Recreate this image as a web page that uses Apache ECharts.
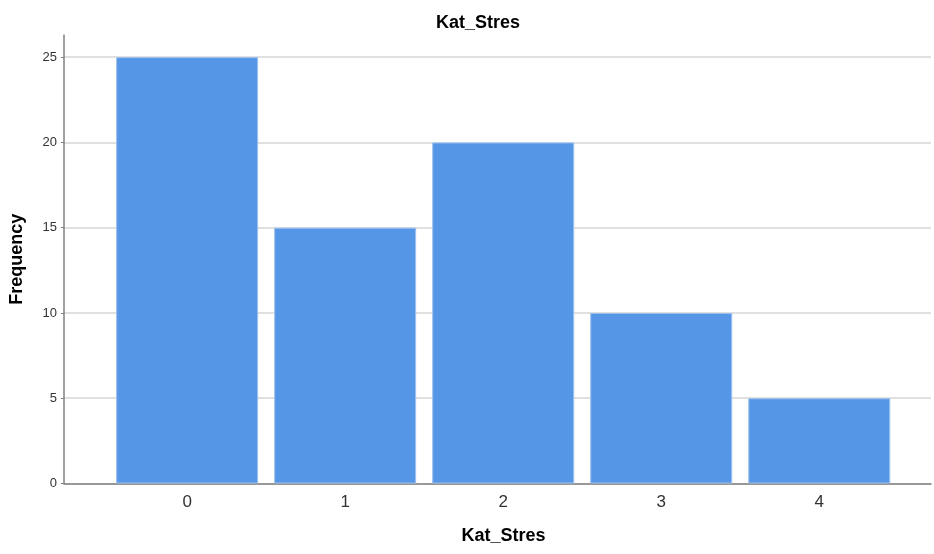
<!DOCTYPE html>
<html>
<head>
<meta charset="utf-8">
<script src="https://cdn.jsdelivr.net/npm/echarts@6/dist/echarts.min.js"></script>
<style>
html,body{margin:0;padding:0;background:#fff;}
#chart{width:934px;height:554px;}
</style>
</head>
<body>
<div id="chart"></div>
<script>
var categories = [0, 1, 2, 3, 4];
var frequencies = [25, 15, 20, 10, 5];
var yTicks = [0, 5, 10, 15, 20, 25];
var titleText = 'Kat_Stres';
var xName = 'Kat_Stres';
var yName = 'Frequency';

var chart = echarts.init(document.getElementById('chart'));
var font = '"Liberation Sans", Arial, sans-serif';
var barData = categories.map(function (c, i) { return [c, frequencies[i]]; });

chart.setOption({
  animation: false,
  backgroundColor: '#ffffff',
  title: {
    text: titleText,
    left: 473,
    textAlign: 'center',
    top: 9,
    textStyle: { fontFamily: font, fontSize: 18, fontWeight: 'bold', color: '#000' }
  },
  grid: { left: 63.5, right: 1, top: 35, bottom: 70.5, containLabel: false },
  xAxis: {
    type: 'value',
    min: -0.779,
    max: 4.707,
    name: xName,
    nameLocation: 'middle',
    nameGap: 44,
    nameTextStyle: { fontFamily: font, fontSize: 18, fontWeight: 'bold', color: '#000', padding: [0, 0, 0, 12] },
    axisLine: { show: true, onZero: false, lineStyle: { color: '#808080', width: 1.5 } },
    axisTick: { show: false },
    splitLine: { show: false },
    axisLabel: {
      margin: 10,
      fontFamily: font,
      fontSize: 17,
      color: '#333',
      formatter: function (v) {
        return categories.indexOf(Math.round(v * 1000) / 1000) >= 0 ? String(v) : '';
      }
    }
  },
  yAxis: {
    type: 'value',
    min: 0,
    max: 26.3,
    interval: 5,
    name: yName,
    nameLocation: 'middle',
    nameGap: 38,
    nameRotate: 90,
    nameTextStyle: { fontFamily: font, fontSize: 18, fontWeight: 'bold', color: '#000' },
    axisLine: { show: true, onZero: false, lineStyle: { color: '#808080', width: 1.5 } },
    axisTick: { show: true, length: 3, lineStyle: { color: '#808080' } },
    axisLabel: {
      margin: 7,
      fontFamily: font,
      fontSize: 13,
      color: '#333',
      showMaxLabel: false,
      formatter: function (v) { return yTicks.indexOf(v) >= 0 ? String(v) : ''; }
    },
    splitLine: { show: true, showMaxLine: false, lineStyle: { color: '#d6d6d6', width: 1.5 } }
  },
  series: [{
    type: 'bar',
    data: barData,
    barWidth: 142,
    itemStyle: { color: '#5596e6', borderColor: '#9cc0ee', borderWidth: 1 }
  }]
});
</script>
</body>
</html>
